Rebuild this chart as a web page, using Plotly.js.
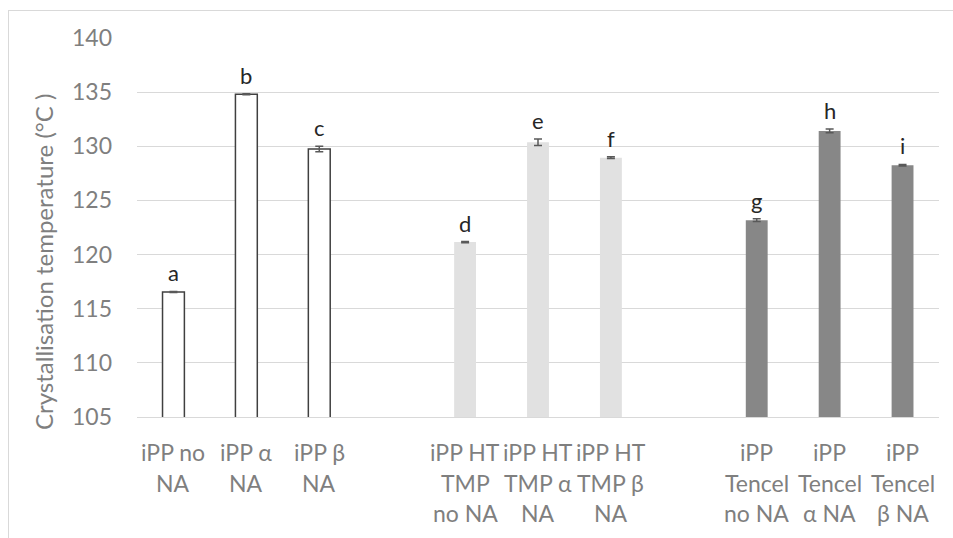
<!DOCTYPE html>
<html>
<head>
<meta charset="utf-8">
<script src="https://cdn.plot.ly/plotly-3.0.1.min.js"></script>
<style>
  html, body { margin: 0; padding: 0; background: #ffffff; overflow: hidden; }
  #wrap { position: relative; width: 953px; height: 538px; }
  #chart { position: absolute; left: 0; top: 0; width: 953px; height: 538px; }
  #frame { position: absolute; left: 8px; top: 10px; width: 1000px; height: 600px;
           border: 1px solid #d9d9d9; box-sizing: border-box; pointer-events: none; }
</style>
</head>
<body>
<div id="wrap">
  <div id="chart"></div>
  <div id="frame"></div>
</div>
<script>
// ---- data ----
var categories = [
  "iPP no<br>NA", "iPP α<br>NA", "iPP β<br>NA", "",
  "iPP HT<br>TMP<br>no NA", "iPP HT<br>TMP α<br>NA", "iPP HT<br>TMP β<br>NA", " ",
  "iPP<br>Tencel<br>no NA", "iPP<br>Tencel<br>α NA", "iPP<br>Tencel<br>β NA"
];
var groupIPP    = ["iPP no<br>NA", "iPP α<br>NA", "iPP β<br>NA"];
var groupHTTMP  = ["iPP HT<br>TMP<br>no NA", "iPP HT<br>TMP α<br>NA", "iPP HT<br>TMP β<br>NA"];
var groupTencel = ["iPP<br>Tencel<br>no NA", "iPP<br>Tencel<br>α NA", "iPP<br>Tencel<br>β NA"];

var valuesIPP    = [116.55, 134.8, 129.75];
var valuesHTTMP  = [121.15, 130.37, 128.95];
var valuesTencel = [123.18, 131.42, 128.25];

var errorsIPP    = [0.05, 0.05, 0.25];
var errorsHTTMP  = [0.05, 0.3, 0.08];
var errorsTencel = [0.12, 0.18, 0.07];

var lettersIPP    = ["a", "b", "c"];
var lettersHTTMP  = ["d", "e", "f"];
var lettersTencel = ["g", "h", "i"];

var yTicks = [105, 110, 115, 120, 125, 130, 135, 140];
var yTitle = "Crystallisation temperature (°C )";

// ---- layout helpers ----
var W = 953, H = 538;
var M = { l: 137, r: 14, t: 38, b: 121 };
var plotW = W - M.l - M.r, plotH = H - M.t - M.b;
function pxX(px) { return (px - M.l) / plotW; }
function pxY(py) { return 1 - (py - M.t) / plotH; }

var FONT = "Lato, 'Open Sans', sans-serif";
var tickColor = "#7f7f7f";

function barTrace(xs, ys, errs, fill, line) {
  return {
    type: "bar",
    x: xs, y: ys, width: 0.3,
    marker: { color: fill, line: { color: line, width: line === fill ? 0 : 1.5 } },
    error_y: { type: "data", array: errs, visible: true, color: "#595959", thickness: 1.5, width: 4 },
    hoverinfo: "skip", showlegend: false
  };
}

var traces = [
  barTrace(groupIPP, valuesIPP, errorsIPP, "#ffffff", "#404040"),
  barTrace(groupHTTMP, valuesHTTMP, errorsHTTMP, "#e1e1e1", "#e1e1e1"),
  barTrace(groupTencel, valuesTencel, errorsTencel, "#878787", "#878787")
];

var annotations = [];
// significance letters
function addLetters(xs, ys, errs, letters) {
  for (var i = 0; i < xs.length; i++) {
    annotations.push({
      x: xs[i], y: ys[i] + errs[i], xref: "x", yref: "y",
      text: letters[i], showarrow: false, yanchor: "bottom", yshift: 3,
      font: { family: FONT, size: 22, color: "#262626" }
    });
  }
}
addLetters(groupIPP, valuesIPP, errorsIPP, lettersIPP);
addLetters(groupHTTMP, valuesHTTMP, errorsHTTMP, lettersHTTMP);
addLetters(groupTencel, valuesTencel, errorsTencel, lettersTencel);

// category labels, one annotation per line
var lineTop = 452, lineGap = 30.5;
categories.forEach(function (c) {
  if (c.trim() === "") return;
  c.split("<br>").forEach(function (ln, k) {
    annotations.push({
      x: c, xref: "x", y: pxY(lineTop + k * lineGap), yref: "paper",
      text: ln, showarrow: false, yanchor: "middle", xanchor: "center",
      font: { family: FONT, size: 23, color: tickColor }
    });
  });
});

// y-axis title
annotations.push({
  x: pxX(43), y: pxY(262), xref: "paper", yref: "paper",
  text: yTitle, textangle: -90, showarrow: false,
  xanchor: "center", yanchor: "middle",
  font: { family: FONT, size: 24, color: tickColor }
});

var layout = {
  width: W, height: H,
  margin: M,
  paper_bgcolor: "#ffffff", plot_bgcolor: "#ffffff",
  barmode: "overlay",
  xaxis: {
    type: "category", categoryorder: "array", categoryarray: categories,
    range: [-0.5, 10.5], showticklabels: false, showgrid: false,
    showline: true, linecolor: "#d9d9d9", linewidth: 1, ticks: "", fixedrange: true
  },
  yaxis: {
    range: [105, 140], tickvals: yTicks, ticks: "",
    showgrid: true, gridcolor: "#d9d9d9", gridwidth: 1, zeroline: false,
    ticklabelstandoff: 24,
    tickfont: { family: FONT, size: 23, color: tickColor }, fixedrange: true
  },
  annotations: annotations,
  font: { family: FONT }
};

Plotly.newPlot("chart", traces, layout, { displayModeBar: false, staticPlot: true });
</script>
</body>
</html>
